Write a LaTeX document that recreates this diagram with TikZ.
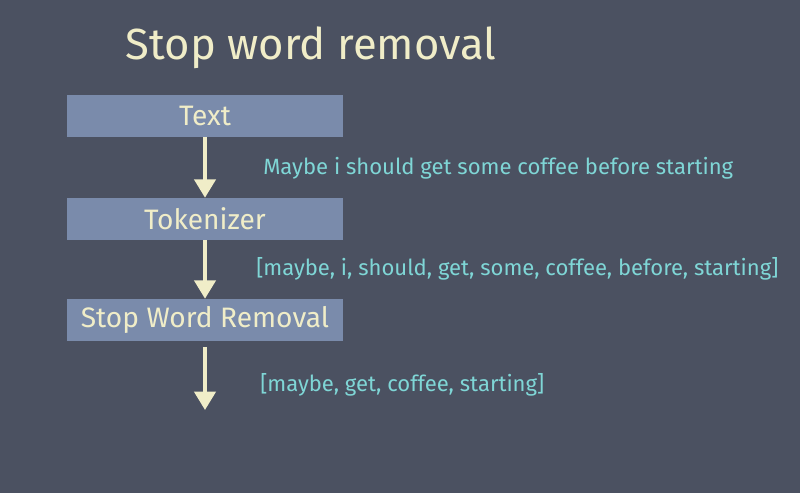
\documentclass[tikz,border=0pt]{standalone}
\usepackage{fontspec}
\setmainfont{Fira Sans}
\usetikzlibrary{arrows.meta}
\definecolor{board}{HTML}{4B5161}
\definecolor{boxfill}{HTML}{7A8BAB}
\definecolor{chalk}{HTML}{F0EDC8}
\definecolor{chalkcyan}{HTML}{7FD6D6}

\begin{document}
\begin{tikzpicture}[x=0.025cm, y=-0.025cm,
  stage/.style={rectangle, fill=boxfill, text=chalk, minimum width=6.9cm, minimum height=1.05cm, inner sep=0pt, font=\fontsize{20}{23}\selectfont},
  flow/.style={-{Triangle[width=15pt, length=13pt]}, line width=2.6pt, draw=chalk},
  sample/.style={text=chalkcyan, anchor=west, inner sep=0pt, font=\fontsize{15.7}{18}\selectfont}]
\fill[board] (0,0) rectangle (800,493);
\useasboundingbox (0,0) rectangle (800,493);

\node[text=chalk, anchor=west, font=\fontsize{31}{35}\selectfont] (title) at (121,48) {Stop word removal};

\node[stage] (text) at (205,116) {Text};
\node[stage] (token) at (205,219) {Tokenizer};
\node[stage] (stop) at (205,320) {Stop Word Removal};
\coordinate (out) at (205,410);

\draw[flow] (text) -- (token);
\draw[flow] (token) -- (stop);
\draw[flow] ([yshift=-4pt]stop.south) -- (out);

\node[sample] (raw) at (263,168) {Maybe i should get some coffee before starting};
\node[sample] (tokens) at (256,269) {[maybe, i, should, get, some, coffee, before, starting]};
\node[sample] (kept) at (260,385) {[maybe, get, coffee, starting]};
\end{tikzpicture}
\end{document}
